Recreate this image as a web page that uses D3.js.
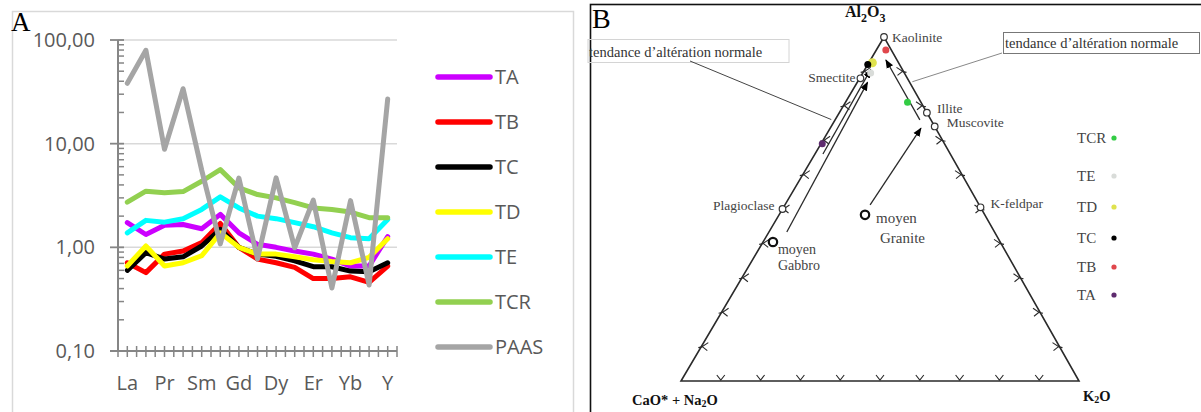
<!DOCTYPE html>
<html><head><meta charset="utf-8">
<script src="https://cdn.jsdelivr.net/npm/d3@7"></script>
<style>body{margin:0;background:#fff}svg{display:block}</style>
</head><body><svg id="c" width="1201" height="412"></svg>
<script>
// ---------- Panel A data ----------
const categories = ["La","Ce","Pr","Nd","Sm","Eu","Gd","Tb","Dy","Ho","Er","Tm","Yb","Lu","Y"];
const shownLabels = ["La","Pr","Sm","Gd","Dy","Er","Yb","Y"];
const yTicks = [0.1, 1, 10, 100];
const TA   = [1.73,1.33,1.63,1.66,1.51,2.08,1.38,1.07,1.00,0.92,0.86,0.77,0.66,0.66,1.27];
const TB   = [0.71,0.57,0.86,0.92,1.11,1.70,1.00,0.77,0.71,0.64,0.50,0.50,0.52,0.46,0.66];
const TC   = [0.60,0.89,0.77,0.81,1.03,1.49,1.00,0.86,0.82,0.74,0.65,0.65,0.59,0.58,0.71];
const TD   = [0.66,1.03,0.66,0.71,0.83,1.38,1.00,0.86,0.86,0.81,0.76,0.73,0.71,0.80,1.21];
const TE   = [1.38,1.82,1.75,1.89,2.32,3.07,2.40,2.00,1.89,1.73,1.58,1.38,1.24,1.21,1.86];
const TCR  = [2.73,3.48,3.36,3.45,4.34,5.62,3.75,3.23,3.00,2.70,2.40,2.32,2.19,1.93,1.93];
const PAAS = [38.2,79.6,8.83,33.9,5.55,1.08,4.66,0.774,4.68,0.991,2.85,0.405,2.82,0.433,27];
const seriesNames  = ["TA","TB","TC","TD","TE","TCR","PAAS"];
const seriesValues = [TA,TB,TC,TD,TE,TCR,PAAS];
const seriesColors = ["#cc00ff","#ff0000","#000000","#ffff00","#00ffff","#92d050","#a5a5a5"];

// ---------- Panel B data (ternary %: Al2O3, CaO*+Na2O, K2O) ----------
const minerals   = ["Kaolinite","Smectite","Illite","Muscovite","K-feldpar","Plagioclase"];
const mineralA   = [100, 88, 78, 74, 50.5, 50];
const mineralCN  = [0, 11.8, 0, 0, 0, 50];
const mineralK   = [0, 0.2, 22, 26, 49.5, 0];
const rocks      = [["moyen","Gabbro"],["moyen","Granite"]];
const rockA      = [40.4, 48.3];
const rockCN     = [57.1, 30.1];
const rockK      = [2.5, 21.6];
const samples    = ["TCR","TE","TD","TC","TB","TA"];
const sampleA    = [81, 89.5, 92.5, 92, 96.2, 69];
const sampleCN   = [3.4, 8.5, 6.6, 8, 1.4, 30.7];
const sampleK    = [15.6, 2, 0.9, 0, 2.4, 0.3];
const sampleColors = ["#33cc44","#d9dcd9","#dfe24e","#000000","#e0474c","#5e2b6e"];
// trend arrows: [A, CN, K] start -> end
const trendArrows = [
  [[43.3,52.2,4.5],[86.8,10.6,2.6]],
  [[66,32,2],[90.5,8,1.5]],
  [[51.2,27.4,21.4],[73.5,3.7,22.8]],
  [[75.9,2.8,21.3],[93.3,2.8,3.9]]
];
const trendLabel = "tendance d\u2019alt\u00e9ration normale";

const svg = d3.select("#c");

// ================= Panel A =================
const gA = svg.append("g");
gA.append("rect").attr("x",12.5).attr("y",11.5).attr("width",561).attr("height",440)
  .attr("fill","none").attr("stroke","#d9d9d9").attr("stroke-width",1.5);
gA.append("text").attr("x",11).attr("y",31).text("A")
  .attr("font-family","Liberation Serif").attr("font-size",27).attr("fill","#000");

const x = d3.scaleBand().domain(categories).range([118,397]);
const bw = x.bandwidth();
const y = d3.scaleLog().domain([0.1,100]).range([351,40]);
const fmt = d3.formatLocale({decimal:",",thousands:".",grouping:[3],currency:["",""]}).format(".2f");

gA.selectAll("line.grid").data(yTicks.slice(1)).join("line").attr("class","grid")
  .attr("x1",118).attr("x2",397).attr("y1",d=>y(d)).attr("y2",d=>y(d))
  .attr("stroke","#d9d9d9").attr("stroke-width",1.5);

const axisCol = "#868686";
const allY = y.ticks().filter(v=>!yTicks.some(t=>Math.abs(t-v)<1e-9));
gA.selectAll("line.ymin").data(allY).join("line")
  .attr("x1",118).attr("x2",124).attr("y1",d=>y(d)).attr("y2",d=>y(d))
  .attr("stroke",axisCol).attr("stroke-width",1.5);
gA.selectAll("line.ymaj").data(yTicks).join("line")
  .attr("x1",110).attr("x2",124).attr("y1",d=>y(d)).attr("y2",d=>y(d))
  .attr("stroke",axisCol).attr("stroke-width",1.8);
gA.append("line").attr("x1",118).attr("x2",118).attr("y1",y(100)).attr("y2",y(0.1))
  .attr("stroke",axisCol).attr("stroke-width",2);
gA.selectAll("text.yl").data(yTicks).join("text")
  .attr("x",95).attr("y",d=>y(d)).attr("dy","0.35em").attr("text-anchor","end")
  .attr("font-family","Open Sans").attr("font-size",20).attr("fill","#595959")
  .text(d=>fmt(d));

const xTickPos = categories.flatMap(c=>[x(c), x(c)+bw/2]).concat([x.range()[1]]);
gA.append("line").attr("x1",110).attr("x2",397).attr("y1",y(0.1)).attr("y2",y(0.1))
  .attr("stroke",axisCol).attr("stroke-width",2);
gA.selectAll("line.xt").data(xTickPos).join("line")
  .attr("x1",d=>d).attr("x2",d=>d).attr("y1",y(0.1)-5).attr("y2",y(0.1)+6)
  .attr("stroke",axisCol).attr("stroke-width",1.5);
gA.selectAll("text.xl").data(shownLabels).join("text")
  .attr("x",d=>x(d)+bw/2).attr("y",390).attr("text-anchor","middle")
  .attr("font-family","Open Sans").attr("font-size",20).attr("fill","#595959")
  .text(d=>d);

const line = d3.line().x((d,i)=>x(categories[i])+bw/2).y(d=>y(d));
gA.selectAll("path.s").data(seriesValues).join("path")
  .attr("d",d=>line(d)).attr("fill","none")
  .attr("stroke",(d,i)=>seriesColors[i]).attr("stroke-width",5)
  .attr("stroke-linejoin","round").attr("stroke-linecap","round");

const legY = d3.scalePoint().domain(seriesNames).range([77,347]);
const lg = gA.selectAll("g.lg").data(seriesNames).join("g").attr("transform",d=>`translate(0,${legY(d)})`);
lg.append("line").attr("x1",438).attr("x2",490).attr("stroke",(d,i)=>seriesColors[i])
  .attr("stroke-width",5.5).attr("stroke-linecap","round");
lg.append("text").attr("x",495).attr("dy","0.36em").text(d=>d)
  .attr("font-family","Open Sans").attr("font-size",20).attr("fill","#595959");

// ================= Panel B =================
const gB = svg.append("g");
gB.append("rect").attr("x",590.5).attr("y",4.5).attr("width",640).attr("height",440)
  .attr("fill","none").attr("stroke","#111").attr("stroke-width",1.6);
gB.append("text").attr("x",592).attr("y",28).text("B")
  .attr("font-family","Liberation Serif").attr("font-size",28).attr("fill","#000");

const vA=[884,37], vCN=[681,381], vK=[1079,381];
function tern(a,cn,k){
  const s=a+cn+k; a/=s; cn/=s; k/=s;
  return [a*vA[0]+cn*vCN[0]+k*vK[0], a*vA[1]+cn*vCN[1]+k*vK[1]];
}
const serif = "Liberation Serif";
const dark = "#2a2a2a";

gB.append("path").attr("d",d3.line()([tern(100,0,0),tern(0,100,0),tern(0,0,100)])+"Z")
  .attr("fill","none").attr("stroke",dark).attr("stroke-width",1.6);

const steps = d3.range(10,100,10);
steps.forEach(t=>{
  const [bx,by] = tern(0,100-t,t);
  gB.append("path").attr("d",`M${bx-4},${by-6}L${bx},${by-1}L${bx+4},${by-6}`)
    .attr("fill","none").attr("stroke",dark).attr("stroke-width",1.1);
  const [lx,ly] = tern(t,100-t,0);
  gB.append("path").attr("d",`M${lx+7},${ly-4}L${lx+1},${ly}L${lx+6},${ly+4}M${lx-3},${ly+1}L${lx+2},${ly}`)
    .attr("fill","none").attr("stroke",dark).attr("stroke-width",1.1);
  const [rx,ry] = tern(t,0,100-t);
  gB.append("path").attr("d",`M${rx-7},${ry-4}L${rx-1},${ry}L${rx-6},${ry+4}M${rx+3},${ry+1}L${rx-2},${ry}`)
    .attr("fill","none").attr("stroke",dark).attr("stroke-width",1.1);
});

svg.append("defs").append("marker").attr("id","ah").attr("viewBox","0 0 10 10")
  .attr("refX",9).attr("refY",5).attr("markerWidth",9).attr("markerHeight",9)
  .attr("markerUnits","userSpaceOnUse").attr("orient","auto")
  .append("path").attr("d","M0,1L10,5L0,9Z").attr("fill","#000");
gB.selectAll("line.tr").data(trendArrows).join("line")
  .attr("x1",d=>tern(...d[0])[0]).attr("y1",d=>tern(...d[0])[1])
  .attr("x2",d=>tern(...d[1])[0]).attr("y2",d=>tern(...d[1])[1])
  .attr("stroke",dark).attr("stroke-width",1.3).attr("marker-end","url(#ah)");

gB.append("rect").attr("x",588).attr("y",39.5).attr("width",201).attr("height",23)
  .attr("fill","none").attr("stroke","#d4d4d4").attr("stroke-width",1);
gB.append("text").attr("x",589).attr("y",57).text(trendLabel)
  .attr("font-family",serif).attr("font-size",14.5).attr("fill","#333");
const lEnd = tern(76,24,0);
gB.append("line").attr("x1",690).attr("y1",61).attr("x2",lEnd[0]-4).attr("y2",lEnd[1])
  .attr("stroke","#444").attr("stroke-width",1);
gB.append("rect").attr("x",1003.5).attr("y",32.5).attr("width",196).attr("height",21)
  .attr("fill","none").attr("stroke","#777").attr("stroke-width",1);
gB.append("text").attr("x",1005).attr("y",48).text(trendLabel)
  .attr("font-family",serif).attr("font-size",14.5).attr("fill","#333");
const rEnd = tern(87,0,13);
gB.append("line").attr("x1",1002).attr("y1",53).attr("x2",rEnd[0]+3).attr("y2",rEnd[1])
  .attr("stroke","#888").attr("stroke-width",1);

const mOff = [[8,5,"start"],[-5,4,"end"],[10,0,"start"],[12,1,"start"],[10,1,"start"],[-8,1,"end"]];
minerals.forEach((m,i)=>{
  const [px,py] = tern(mineralA[i],mineralCN[i],mineralK[i]);
  gB.append("circle").attr("cx",px).attr("cy",py).attr("r",3.3)
    .attr("fill","#fff").attr("stroke","#333").attr("stroke-width",1.2);
  gB.append("text").attr("x",px+mOff[i][0]).attr("y",py+mOff[i][1]).attr("text-anchor",mOff[i][2])
    .attr("font-family",serif).attr("font-size",13.5).attr("fill","#444").text(m);
});
const rOff = [[5,12],[11,8]];
rocks.forEach((r,i)=>{
  const [px,py] = tern(rockA[i],rockCN[i],rockK[i]);
  gB.append("circle").attr("cx",px).attr("cy",py).attr("r",4.2)
    .attr("fill","#fff").attr("stroke","#111").attr("stroke-width",2.2);
  r.forEach((w,j)=>gB.append("text").attr("x",px+rOff[i][0]+(i===1&&j===1?4:0)).attr("y",py+rOff[i][1]+j*(i===0?16:20))
    .attr("font-family",serif).attr("font-size",i===1?15:14).attr("fill","#444").text(w));
});
samples.forEach((s,i)=>{
  const [px,py] = tern(sampleA[i],sampleCN[i],sampleK[i]);
  gB.append("circle").attr("cx",px).attr("cy",py).attr("r",i===2?4.5:3.5).attr("fill",sampleColors[i]);
});

const tA = gB.append("text").attr("x",845).attr("y",17).attr("font-family",serif).attr("font-weight","bold")
  .attr("font-size",16).attr("fill","#111");
tA.append("tspan").text("Al");
tA.append("tspan").text("2").attr("font-size",12).attr("dy",5);
tA.append("tspan").text("O").attr("dy",-5);
tA.append("tspan").text("3").attr("font-size",12).attr("dy",5);
const tCN = gB.append("text").attr("x",632).attr("y",405).attr("font-family",serif).attr("font-weight","bold")
  .attr("font-size",14.5).attr("fill","#111");
tCN.append("tspan").text("CaO* + Na");
tCN.append("tspan").text("2").attr("font-size",10).attr("dy",2);
tCN.append("tspan").text("O").attr("dy",-2);
const tK = gB.append("text").attr("x",1083).attr("y",401).attr("font-family",serif).attr("font-weight","bold")
  .attr("font-size",14.5).attr("fill","#111");
tK.append("tspan").text("K");
tK.append("tspan").text("2").attr("font-size",10).attr("dy",2);
tK.append("tspan").text("O").attr("dy",-2);

const legB = d3.scaleOrdinal().domain(samples).range([138,176,207,238,267,295]);
samples.forEach((s,i)=>{
  gB.append("text").attr("x",1077).attr("y",legB(s)).attr("dy","0.35em")
    .attr("font-family",serif).attr("font-size",15).attr("fill","#444").text(s);
  gB.append("circle").attr("cx",1114).attr("cy",legB(s)).attr("r",2.6).attr("fill",sampleColors[i]);
});
</script></body></html>
